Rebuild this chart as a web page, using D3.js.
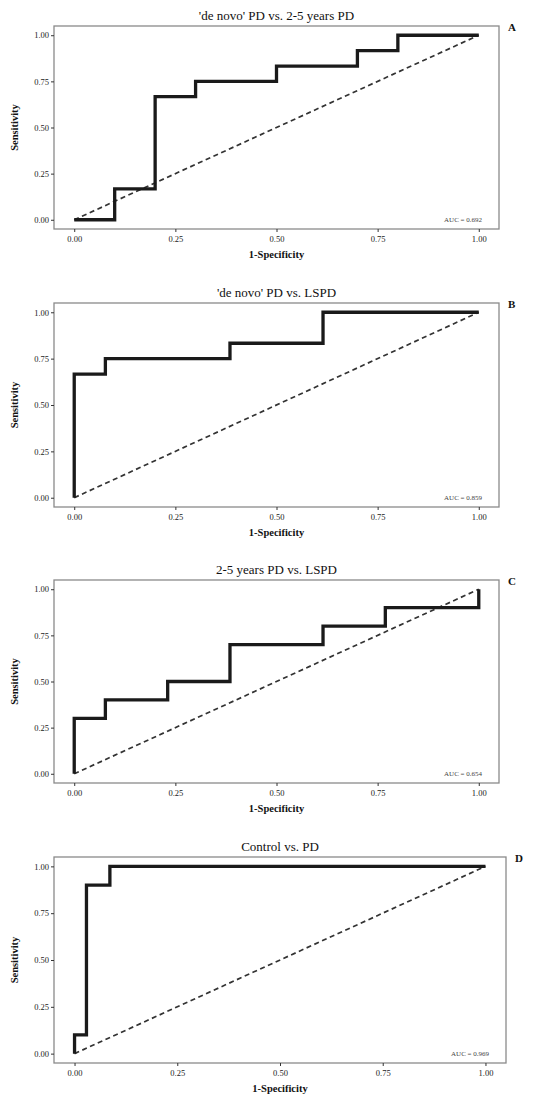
<!DOCTYPE html>
<html>
<head>
<meta charset="utf-8">
<script src="https://cdn.jsdelivr.net/npm/d3@7"></script>
<style>
  body { margin: 0; background: #fff; }
  svg { display: block; font-family: "Liberation Serif", "DejaVu Serif", serif; }
</style>
</head>
<body>
<svg id="chart" width="546" height="1097"></svg>
<script>
// --- donnees des 4 courbes ROC ---
const titres = ["'de novo' PD vs. 2-5 years PD", "'de novo' PD vs. LSPD", "2-5 years PD vs. LSPD", "Control vs. PD"];
const lettres = ["A", "B", "C", "D"];
const aucTextes = ["AUC = 0.692", "AUC = 0.859", "AUC = 0.654", "AUC = 0.969"];

const fprA = [0, 0.1, 0.1, 0.2, 0.2, 0.3, 0.3, 0.5, 0.5, 0.7, 0.7, 0.8, 0.8, 1];
const tprA = [0, 0, 0.167, 0.167, 0.667, 0.667, 0.75, 0.75, 0.833, 0.833, 0.917, 0.917, 1, 1];

const fprB = [0, 0, 0.077, 0.077, 0.385, 0.385, 0.615, 0.615, 1];
const tprB = [0, 0.667, 0.667, 0.75, 0.75, 0.833, 0.833, 1, 1];

const fprC = [0, 0, 0.077, 0.077, 0.231, 0.231, 0.385, 0.385, 0.615, 0.615, 0.769, 0.769, 1, 1];
const tprC = [0, 0.3, 0.3, 0.4, 0.4, 0.5, 0.5, 0.7, 0.7, 0.8, 0.8, 0.9, 0.9, 1];

const fprD = [0, 0, 0.029, 0.029, 0.086, 0.086, 1];
const tprD = [0, 0.1, 0.1, 0.9, 0.9, 1, 1];

const ticks = [0, 0.25, 0.5, 0.75, 1];
const tickLabels = ["0.00", "0.25", "0.50", "0.75", "1.00"];

const fprs = [fprA, fprB, fprC, fprD];
const tprs = [tprA, tprB, tprC, tprD];

// cadre de chaque panneau (px)
const cadres = [
  { l: 54, r: 499, t: 26, b: 229 },
  { l: 54, r: 499, t: 303, b: 507 },
  { l: 54, r: 499, t: 580, b: 783 },
  { l: 54, r: 506, t: 857, b: 1063 }
];

const svg = d3.select("#chart");

cadres.forEach((c, i) => {
  const x = d3.scaleLinear().domain([-0.05, 1.05]).range([c.l, c.r]);
  const y = d3.scaleLinear().domain([-0.05, 1.05]).range([c.b, c.t]);
  const g = svg.append("g");

  // cadre gris
  g.append("rect")
    .attr("x", c.l).attr("y", c.t)
    .attr("width", c.r - c.l).attr("height", c.b - c.t)
    .attr("fill", "none").attr("stroke", "#8a8a8a").attr("stroke-width", 1.3);

  // axes
  const axeX = g.append("g").attr("transform", `translate(0,${c.b})`)
    .call(d3.axisBottom(x).tickValues(ticks).tickSize(3).tickFormat((d, k) => tickLabels[k]));
  const axeY = g.append("g").attr("transform", `translate(${c.l},0)`)
    .call(d3.axisLeft(y).tickValues(ticks).tickSize(3).tickFormat((d, k) => tickLabels[k]));
  [axeX, axeY].forEach(a => {
    a.select(".domain").remove();
    a.selectAll("line").attr("stroke", "#333");
    a.selectAll("text").attr("fill", "#222").style("font-size", "8.5px")
      .style("font-family", "'Liberation Serif', serif");
  });
  axeX.selectAll("text").attr("dy", "0.85em");
  axeY.selectAll("text").attr("x", -5);

  // diagonale
  g.append("line")
    .attr("x1", x(0)).attr("y1", y(0)).attr("x2", x(1)).attr("y2", y(1))
    .attr("stroke", "#333").attr("stroke-width", 1.7).attr("stroke-dasharray", "5,3.5");

  // courbe ROC
  const pts = fprs[i].map((f, k) => [f, tprs[i][k]]);
  g.append("path")
    .datum(pts)
    .attr("d", d3.line().x(d => x(d[0])).y(d => y(d[1])))
    .attr("fill", "none").attr("stroke", "#1a1a1a").attr("stroke-width", 3.3)
    .attr("stroke-linejoin", "miter");

  // AUC
  g.append("text")
    .attr("x", c.r - 17).attr("y", y(0) + 2)
    .attr("text-anchor", "end")
    .style("font-size", "7px").attr("fill", "#444")
    .text(aucTextes[i]);

  // titre
  g.append("text")
    .attr("x", (c.l + c.r) / 2).attr("y", c.t - 6)
    .attr("text-anchor", "middle")
    .style("font-size", "13px").attr("fill", "#111")
    .text(titres[i]);

  // lettre
  g.append("text")
    .attr("x", c.r + 9).attr("y", c.t + 5)
    .style("font-size", "11px").style("font-weight", "bold").attr("fill", "#111")
    .text(lettres[i]);

  // titres des axes
  g.append("text")
    .attr("x", (c.l + c.r) / 2).attr("y", c.b + 29)
    .attr("text-anchor", "middle")
    .style("font-size", "10.5px").style("font-weight", "bold").attr("fill", "#111")
    .text("1-Specificity");
  g.append("text")
    .attr("transform", `translate(18,${(c.t + c.b) / 2}) rotate(-90)`)
    .attr("text-anchor", "middle")
    .style("font-size", "10.5px").style("font-weight", "bold").attr("fill", "#111")
    .text("Sensitivity");
});
</script>
</body>
</html>
